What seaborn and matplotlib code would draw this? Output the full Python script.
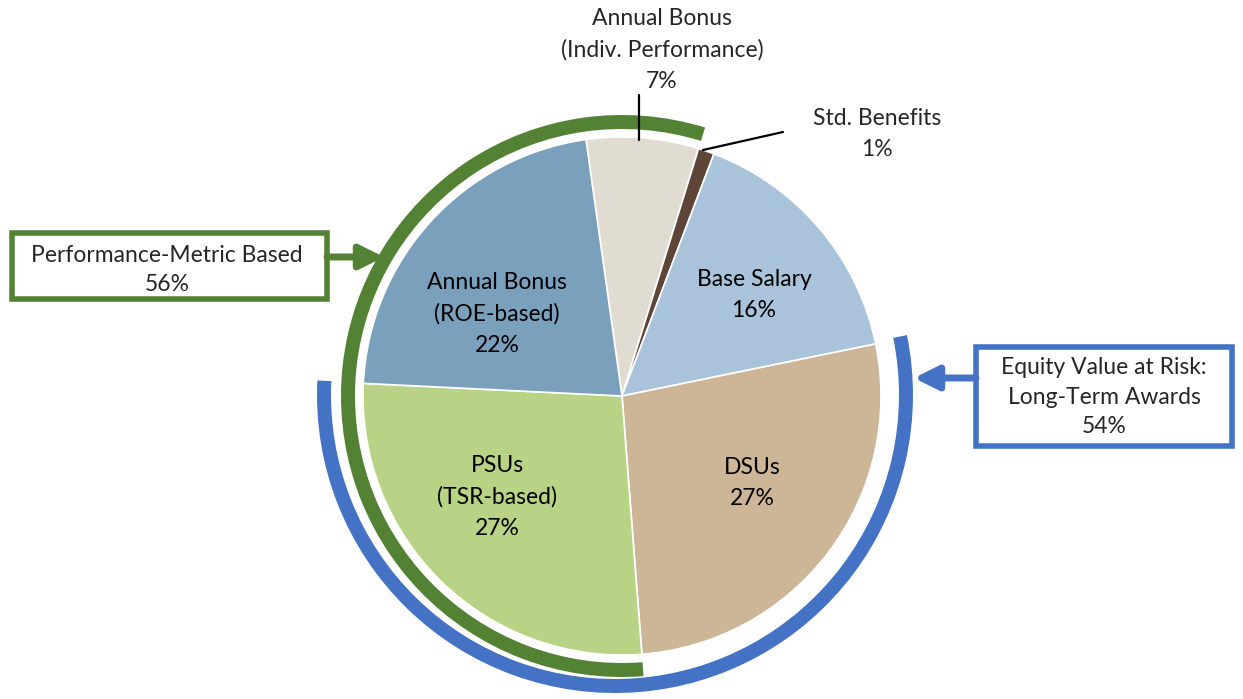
import numpy as np
import matplotlib
matplotlib.use("Agg")
import matplotlib.pyplot as plt
from matplotlib.patches import Wedge
import seaborn as sns

# slices in clockwise order, starting at the top-left
labels = ["Annual Bonus\n(Indiv. Performance)\n7%", "Std. Benefits\n1%", "Base Salary\n16%",
          "DSUs\n27%", "PSUs\n(TSR-based)\n27%", "Annual Bonus\n(ROE-based)\n22%"]
values = [7, 1, 16, 27, 27, 22]
colors = ["#E0DCD1", "#5E4537", "#A9C4DA", "#CDB597", "#B8D386", "#7BA0BC"]

perf_label = "Performance-Metric Based\n56%"
equity_label = "Equity Value at Risk:\nLong-Term Awards\n54%"

GREEN = "#548235"
BLUE = "#4472C4"

sns.set_theme(style="white")
plt.rcParams["font.family"] = ["Lato", "DejaVu Sans"]

W, H = 1243, 699
fig = plt.figure(figsize=(W / 100, H / 100), dpi=100)
ax = fig.add_axes([0, 0, 1, 1])

cx, cy, r = 622, 303, 259
start = 98
ax.pie(values, center=(cx, cy), radius=r, startangle=start, counterclock=False,
       colors=colors, wedgeprops=dict(edgecolor="white", linewidth=1.2))
ax.set_xlim(0, W)
ax.set_ylim(0, H)
ax.set_aspect("equal")
ax.axis("off")

cum = np.concatenate([[0], np.cumsum(values)]) * 3.6
ang_hi = start - cum[:-1]   # start of each slice (going clockwise)
ang_lo = start - cum[1:]    # end of each slice

# green arc: Indiv. bonus + ROE bonus + PSUs
ax.add_patch(Wedge((cx, cy), 281, ang_lo[0], ang_hi[4] + 360, width=14, color=GREEN, lw=0))
# blue arc: DSUs + PSUs
ax.add_patch(Wedge((615, 304), 298, ang_lo[4], ang_hi[3], width=14, color=BLUE, lw=0))

fs = 16.5
ls = 1.6
inside = {2: (754, 404), 3: (752, 216), 4: (497, 202), 5: (497, 385)}
for i, (x, y) in inside.items():
    ax.text(x, y, labels[i], ha="center", va="center", fontsize=fs,
            linespacing=ls, color="black")

# outside labels with leader lines
ax.text(662, 649, labels[0], ha="center", va="center", fontsize=fs, linespacing=ls)
ax.plot([639, 639], [H - 95, H - 140], color="black", lw=1.6)
ax.text(877, 565, labels[1], ha="center", va="center", fontsize=fs, linespacing=ls)
ax.plot([703, 783], [H - 150, H - 132], color="black", lw=1.6)

# callout boxes
ax.add_patch(plt.Rectangle((12, H - 299), 315, 66, fill=False, ec=GREEN, lw=4))
ax.text(167, H - 270, perf_label, ha="center", va="center", fontsize=fs, linespacing=1.5)
ax.annotate("", xy=(384, H - 257), xytext=(327, H - 257),
            arrowprops=dict(arrowstyle="-|>,head_length=1.2,head_width=0.6",
                            color=GREEN, lw=5, shrinkA=0, shrinkB=0))

ax.add_patch(plt.Rectangle((976, H - 446), 256, 99, fill=False, ec=BLUE, lw=4))
ax.text(1104, H - 397, equity_label, ha="center", va="center", fontsize=fs, linespacing=1.5)
ax.annotate("", xy=(914, H - 378), xytext=(976, H - 378),
            arrowprops=dict(arrowstyle="-|>,head_length=1.2,head_width=0.6",
                            color=BLUE, lw=5, shrinkA=0, shrinkB=0))

fig.savefig("out.png", dpi=100, facecolor="white")
